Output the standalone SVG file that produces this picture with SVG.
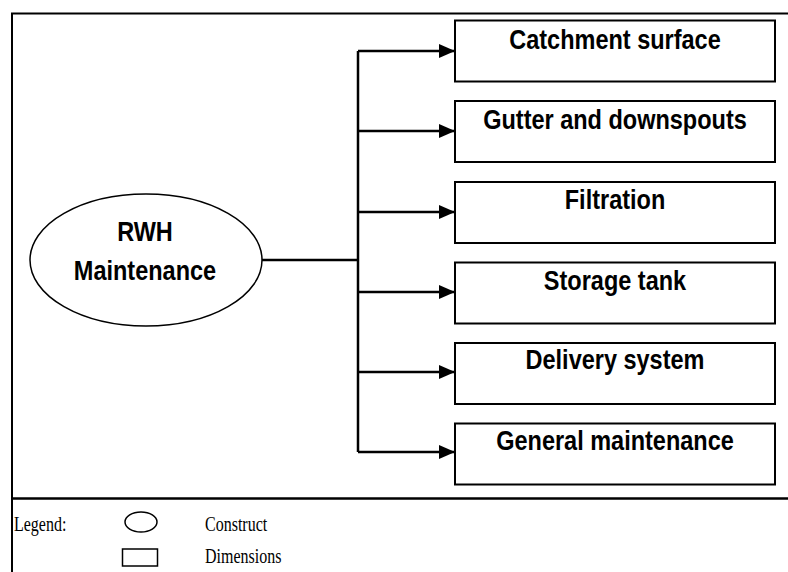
<svg xmlns="http://www.w3.org/2000/svg" width="788" height="572" viewBox="0 0 788 572">
  <style>
    .frame { fill: none; stroke: #000; stroke-width: 2; }
    .box { fill: #fff; stroke: #000; stroke-width: 2; }
    .oval { fill: #fff; stroke: #000; stroke-width: 1.5; }
    .label { font-family: "Liberation Sans", Arial, sans-serif; font-weight: bold; font-size: 23.5px; fill: #000; text-anchor: middle; }
    .legend { font-family: "Liberation Serif", "Times New Roman", serif; font-size: 16px; fill: #000; }
    .wire { fill: none; stroke: #000; stroke-width: 2.5; }
  </style>
  <defs>
    <marker id="arrow" markerUnits="userSpaceOnUse" markerWidth="16" markerHeight="14" refX="16" refY="7" orient="auto">
      <path d="M0,0 L16,7 L0,14 Z" fill="#000"/>
    </marker>
  </defs>

  <rect width="788" height="572" fill="#fff"/>

  <!-- outer frame and legend divider -->
  <g id="frame">
    <path class="frame" d="M12,572 V13.5 H788"/>
    <path d="M12,498.5 H788" stroke="#000" stroke-width="2.5"/>
  </g>

  <!-- connectors: ellipse to trunk, trunk to each box -->
  <g id="connectors">
    <path class="wire" d="M262,260 H358"/>
    <path class="wire" d="M358,51 V452"/>
    <path class="wire" d="M358,51 H455" marker-end="url(#arrow)"/>
    <path class="wire" d="M358,131 H455" marker-end="url(#arrow)"/>
    <path class="wire" d="M358,212 H455" marker-end="url(#arrow)"/>
    <path class="wire" d="M358,292 H455" marker-end="url(#arrow)"/>
    <path class="wire" d="M358,372 H455" marker-end="url(#arrow)"/>
    <path class="wire" d="M358,452 H455" marker-end="url(#arrow)"/>
  </g>

  <!-- labels are drawn slightly tall: scaled vertically about their baseline -->
  <g id="rwh-maintenance">
    <ellipse class="oval" cx="146" cy="260" rx="116" ry="66"/>
    <text class="label" transform="translate(145,241) scale(1,1.17)">RWH</text>
    <text class="label" transform="translate(145,280) scale(1,1.17)">Maintenance</text>
  </g>

  <g id="catchment-surface">
    <rect class="box" x="455" y="20.5" width="320" height="61"/>
    <text class="label" transform="translate(615,49) scale(1,1.17)">Catchment surface</text>
  </g>
  <g id="gutter-downspouts">
    <rect class="box" x="455" y="101" width="320" height="61"/>
    <text class="label" transform="translate(615,129) scale(1,1.17)">Gutter and downspouts</text>
  </g>
  <g id="filtration">
    <rect class="box" x="455" y="182" width="320" height="61"/>
    <text class="label" transform="translate(615,209) scale(1,1.17)">Filtration</text>
  </g>
  <g id="storage-tank">
    <rect class="box" x="455" y="262.5" width="320" height="61"/>
    <text class="label" transform="translate(615,290) scale(1,1.17)">Storage tank</text>
  </g>
  <g id="delivery-system">
    <rect class="box" x="455" y="343" width="320" height="61"/>
    <text class="label" transform="translate(615,369) scale(1,1.17)">Delivery system</text>
  </g>
  <g id="general-maintenance">
    <rect class="box" x="455" y="423.5" width="320" height="61"/>
    <text class="label" transform="translate(615,450) scale(1,1.17)">General maintenance</text>
  </g>

  <!-- legend -->
  <g id="legend">
    <text class="legend" transform="translate(14,531) scale(1,1.3)">Legend:</text>
    <ellipse cx="141" cy="522" rx="16" ry="10" fill="#fff" stroke="#000" stroke-width="1.5"/>
    <text class="legend" transform="translate(205,531) scale(1,1.3)">Construct</text>
    <rect x="122.5" y="549" width="35" height="17" fill="#fff" stroke="#000" stroke-width="1.5"/>
    <text class="legend" transform="translate(205,563) scale(1,1.3)">Dimensions</text>
  </g>
</svg>
